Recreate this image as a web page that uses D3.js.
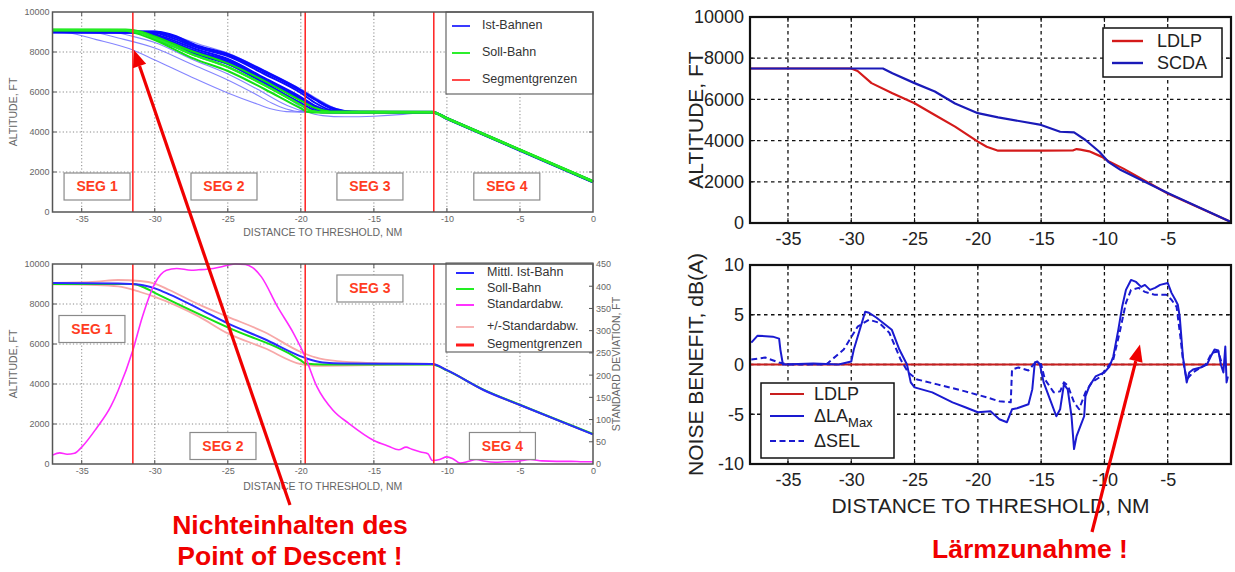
<!DOCTYPE html>
<html><head><meta charset="utf-8">
<script src="https://cdn.jsdelivr.net/npm/d3@7/dist/d3.min.js"></script>
<style>
body{margin:0;background:#fff}
svg{display:block}
text{font-family:Arial,"Liberation Sans",Helvetica,sans-serif}
</style>
</head><body>
<svg id="fig" width="1235" height="572"></svg>
<script>
// ---------------- tick values ----------------
const nmTicksLeft = [-35, -30, -25, -20, -15, -10, -5, 0];
const nmTicksRight = [-35, -30, -25, -20, -15, -10, -5];
const altTicks = [0, 2000, 4000, 6000, 8000, 10000];
const stdTicks = [0, 50, 100, 150, 200, 250, 300, 350, 400, 450];
const noiseTicks = [-10, -5, 0, 5, 10];

// ---------------- segment boundaries (NM) ----------------
const segmentBounds = [-31.5, -19.7, -10.9];
const segLabels = ["SEG 1", "SEG 2", "SEG 3", "SEG 4"];

// ---------------- flown tracks (Ist-Bahnen), [NM, ft] ----------------
const istThin1 = [[-37,9000],[-36,8960],[-34,8620],[-31.5,8100],[-30,7600],[-27.5,6750],[-25,5950],[-23,5400],[-22,5150],[-21,5020],[-19,4990],[-11,4990],[-10,4670],[-5,3080],[0,1500]];
const istThin2 = [[-37,9000],[-34,8950],[-32.5,8700],[-30,8200],[-27.5,7400],[-25,6600],[-23,5850],[-22,5450],[-21,5150],[-20,5020],[-11,5000],[-10,4680],[-5,3090],[0,1500]];
const istThin3 = [[-37,9020],[-33,9000],[-31.5,8780],[-30,8480],[-27.5,7650],[-25,6900],[-23,6150],[-21,5350],[-20,5080],[-19,4990],[-11,4990],[-10,4670],[-5,3080],[0,1500]];
const istThin4 = [[-37,9050],[-30,9050],[-28.8,8830],[-27,8400],[-25,7950],[-22.5,7080],[-20,6150],[-18.5,5500],[-17.5,5150],[-16.5,5020],[-11,5000],[-10,4690],[-5,3100],[0,1520]];
const istThin5 = [[-37,9000],[-31,8990],[-29.8,8700],[-27,7900],[-25,7400],[-22.5,6400],[-20.5,5500],[-19.5,5000],[-18.5,4820],[-17,4760],[-15,4790],[-13,4880],[-11.5,4980],[-11,5000],[-10,4680],[-5,3090],[0,1500]];

const istDense1 = [[-37,9020],[-30.2,9000],[-29.2,8800],[-27,8200],[-25,7800],[-22.5,6900],[-20,5950],[-19,5450],[-18,5100],[-17,5000],[-11,5000],[-10,4690],[-5,3110],[0,1540]];
const istDense2 = [[-37,9000],[-30.5,8990],[-29.5,8780],[-27,8100],[-25,7650],[-22.5,6700],[-20,5750],[-19,5300],[-18,5050],[-17,4990],[-11,4990],[-10,4680],[-5,3100],[0,1520]];
const istDense3 = [[-37,8990],[-30.8,8970],[-29.8,8720],[-27,7950],[-25,7500],[-22.5,6550],[-20,5600],[-19,5150],[-18,4980],[-11,4980],[-10,4660],[-5,3080],[0,1500]];
const istDense4 = [[-37,9010],[-30,9000],[-29,8830],[-27,8250],[-25,7870],[-22.5,7000],[-20,6050],[-19,5600],[-18,5200],[-17,5020],[-11,5010],[-10,4700],[-5,3110],[0,1530]];
const istDense5 = [[-37,8980],[-31,8960],[-30,8650],[-27,7850],[-25,7400],[-22.5,6450],[-20,5450],[-19,5060],[-18.5,4970],[-11,4970],[-10,4650],[-5,3060],[0,1480]];
const istDense6 = [[-37,9030],[-30,9030],[-29,8900],[-27,8300],[-25,7900],[-22.5,7050],[-20,6100],[-19,5650],[-18,5250],[-17,5050],[-16,5000],[-11,5000],[-10,4690],[-5,3100],[0,1510]];
const istDense7 = [[-37,9000],[-30.6,8980],[-29.6,8740],[-27,8000],[-25,7580],[-22.5,6620],[-20,5680],[-19,5220],[-18,5010],[-11,4990],[-10,4670],[-5,3090],[0,1500]];

// ---------------- planned path (Soll-Bahn) ----------------
const soll1 = [[-37,9130],[-32,9120],[-31,9030],[-30,8780],[-27.5,8050],[-25,7430],[-22.5,6560],[-20,5570],[-19,5200],[-18,5030],[-11,5010],[-10,4700],[-5,3130],[0,1560]];
const soll2 = [[-37,9100],[-32,9090],[-31,8970],[-30,8700],[-27.5,7900],[-25,7250],[-22.5,6350],[-20,5350],[-19.3,5060],[-18.5,4990],[-11,4990],[-10,4680],[-5,3110],[0,1530]];
const soll3 = [[-37,9070],[-32,9060],[-31.2,8920],[-30,8600],[-27.5,7720],[-25,7050],[-22.5,6150],[-20,5180],[-19.5,5000],[-18.8,4970],[-11,4970],[-10,4660],[-5,3080],[0,1500]];

// ---------------- statistics of the flown tracks ----------------
const meanIst = [[-37,9050],[-32.5,9020],[-31,8960],[-30,8780],[-29,8480],[-27,7770],[-25,7030],[-22.5,6250],[-20,5380],[-19.5,5250],[-18.5,5080],[-17,5020],[-11,5000],[-10,4690],[-7.5,3700],[-5,2950],[0,1480]];
const sollMean = [[-37,9000],[-31.5,9000],[-30.8,8850],[-30,8560],[-25,6830],[-20,5180],[-19.7,5030],[-18.5,4980],[-11,4980],[-10,4680],[-7.5,3720],[-5,2960],[0,1500]];
const stdUpper = [[-37,9050],[-34,9120],[-32.5,9200],[-31,9150],[-30,9020],[-29,8700],[-27,7980],[-25,7360],[-22.5,6600],[-20,5600],[-19,5330],[-17.5,5140],[-15,5050],[-11,5000],[-10,4700],[-7.5,3710],[-5,2950],[0,1500]];
const stdLower = [[-37,8980],[-34,8950],[-32.5,8880],[-31,8600],[-30,8360],[-27,7380],[-25,6530],[-22.5,5800],[-20,4990],[-19,4910],[-17,4920],[-15,4950],[-11,4980],[-10,4680],[-7.5,3690],[-5,2940],[0,1480]];
const stdDev = [[-37,20],[-36.5,25],[-36,22],[-35.5,24],[-35,38],[-34,80],[-33,130],[-32.5,166],[-31.5,256],[-30.85,331],[-30,406],[-29.2,436],[-28.5,440],[-27.5,436],[-27,437],[-26,440],[-25,447],[-24.5,450],[-23.8,449],[-23.3,442],[-22.7,421],[-21.6,354],[-20.5,294],[-19.7,241],[-18.9,174],[-17.8,121],[-16.7,91],[-15,53],[-14,40],[-13.3,32],[-12.8,38],[-12.4,33],[-11.8,27],[-11.3,23],[-11,8],[-10.5,10],[-10,16],[-9.6,12],[-9.1,2],[-8.5,6],[-8,10],[-7.4,6],[-6.7,4],[-6,5],[-5.2,6],[-4.3,10],[-3.5,7],[-2.5,6],[-1.5,6],[-0.7,5],[0,5]];

// ---------------- LDLP vs SCDA profiles ----------------
const ldlpAlt = [[-38,7500],[-30,7500],[-29.5,7380],[-28.4,6790],[-26.75,6300],[-25,5810],[-23.4,5240],[-21.8,4680],[-20,3950],[-19.3,3700],[-18.4,3510],[-15,3510],[-12.5,3520],[-12.2,3590],[-11.9,3560],[-11.2,3480],[-10.2,3210],[-9.6,2970],[-8.5,2640],[-5,1430],[0,50]];
const scdaAlt = [[-38,7500],[-27.5,7500],[-26.75,7270],[-25,6790],[-23.4,6380],[-21.8,5800],[-20,5330],[-18.4,5130],[-15,4760],[-13.5,4430],[-12.4,4400],[-11.5,4030],[-10.4,3460],[-9.7,2970],[-8.7,2570],[-5,1460],[0,50]];

// ---------------- noise benefit, dB(A) ----------------
const ldlpNoise = [[-38,0],[0,0]];
const laMaxDelta = [[-37.9,2.2],[-37.4,2.9],[-36.2,2.8],[-35.7,2.6],[-35.6,1.5],[-35.4,0],[-33,0.1],[-31,0],[-30,0.3],[-29.8,1.5],[-28.9,5.3],[-28.6,5.2],[-28,4.7],[-26.8,3.5],[-26.2,1.5],[-25.6,0],[-25.3,-1.8],[-25,-2.3],[-23.6,-2.8],[-22,-3.8],[-21,-4.3],[-20,-4.8],[-19,-4.7],[-18.3,-5.5],[-17.7,-5.8],[-17.3,-4.5],[-16.9,-4.4],[-16,-4],[-15.7,-2.5],[-15.5,0.2],[-15.3,0.3],[-15.1,0],[-14.8,-1.8],[-14.3,-3.5],[-13.8,-5.2],[-13.5,-4.5],[-13.2,-2],[-12.9,-2.5],[-12.6,-5.2],[-12.4,-8.5],[-12.2,-7.2],[-11.9,-6.2],[-11.6,-5.2],[-11.5,-3.2],[-11.2,-2.2],[-10.7,-1.2],[-10,-0.8],[-9.6,-0.2],[-9.3,0.8],[-8.9,3.5],[-8.6,5.8],[-8.3,7.5],[-7.9,8.5],[-7.5,8.3],[-7.1,7.8],[-6.8,8],[-6.4,7.5],[-6,7.7],[-5.6,8],[-5,8.2],[-4.7,7.2],[-4.4,6.5],[-4.2,6],[-4.05,4.8],[-3.8,0.8],[-3.5,-1.8],[-3.3,-0.8],[-3,-0.5],[-2.4,-0.3],[-1.9,0],[-1.6,0.8],[-1.3,1.5],[-1,1.4],[-0.8,0],[-0.6,-0.8],[-0.45,1.8],[-0.35,-1.8],[-0.25,-1.2]];
const selDelta = [[-37.9,0.5],[-36.8,0.7],[-35.7,0.2],[-35,0],[-32,0],[-31.8,0.2],[-30.6,1.5],[-29.5,3.8],[-28.6,4.5],[-27.8,4.2],[-27,3.2],[-26.1,0.5],[-25.5,-0.8],[-24.8,-1.5],[-23.2,-2],[-21,-2.7],[-19.3,-3.3],[-18.3,-3.7],[-17.4,-3.8],[-17.3,-0.5],[-16.8,-0.3],[-16,-0.6],[-15.6,0],[-15.3,0.2],[-15,0],[-14.7,-1.5],[-14,-2.8],[-13.5,-2.7],[-13.2,-1.8],[-12.9,-2.1],[-12.4,-3.8],[-12,-4.5],[-11.5,-2.8],[-11,-1.8],[-10.4,-1.3],[-9.9,-0.5],[-9.3,0.5],[-8.8,3.2],[-8.3,6.2],[-7.9,7.5],[-7.3,7.7],[-6.8,7.3],[-6,7],[-5.1,7],[-4.7,6.5],[-4.3,5.8],[-4,2.8],[-3.8,0.5],[-3.5,-1.5],[-3,-0.8],[-2,0],[-1.5,1.2],[-1,1.3],[-0.7,0]];

// =====================================================================
const svg = d3.select("#fig");
const fmt = d => String(d);

function makePanel(o) {
  const x = d3.scaleLinear().domain(o.xDomain).range([o.left, o.right]);
  const y = d3.scaleLinear().domain(o.yDomain).range([o.bottom, o.top]);
  const g = svg.append("g");
  const inner = v => v > Math.min(...o.xDomain) && v < Math.max(...o.xDomain);
  const innerY = v => v > Math.min(...o.yDomain) && v < Math.max(...o.yDomain);

  // grid
  const grid = g.append("g").attr("stroke", o.gridColor).attr("stroke-width", o.gridWidth)
    .attr("stroke-dasharray", o.gridDash).attr("fill", "none");
  grid.selectAll("line.gx").data(o.xTicks.filter(inner)).join("line").attr("class", "gx")
    .attr("x1", d => x(d)).attr("x2", d => x(d)).attr("y1", o.top).attr("y2", o.bottom);
  grid.selectAll("line.gy").data(o.yTicks.filter(innerY)).join("line").attr("class", "gy")
    .attr("y1", d => y(d)).attr("y2", d => y(d)).attr("x1", o.left).attr("x2", o.right);

  // inward tick marks
  const tk = g.append("g").attr("stroke", o.frameColor).attr("stroke-width", 1);
  o.xTicks.filter(inner).forEach(v => {
    tk.append("line").attr("x1", x(v)).attr("x2", x(v)).attr("y1", o.bottom).attr("y2", o.bottom - o.tickLen);
    tk.append("line").attr("x1", x(v)).attr("x2", x(v)).attr("y1", o.top).attr("y2", o.top + o.tickLen);
  });
  o.yTicks.filter(innerY).forEach(v => {
    tk.append("line").attr("y1", y(v)).attr("y2", y(v)).attr("x1", o.left).attr("x2", o.left + o.tickLen);
    if (!o.noRightTicks) tk.append("line").attr("y1", y(v)).attr("y2", y(v)).attr("x1", o.right).attr("x2", o.right - o.tickLen);
  });

  // tick labels through d3 axes
  const ax = g.append("g").attr("transform", `translate(0,${o.bottom})`)
    .call(d3.axisBottom(x).tickValues(o.xTickLabels).tickSize(0).tickPadding(o.xPad).tickFormat(fmt));
  const ay = g.append("g").attr("transform", `translate(${o.left},0)`)
    .call(d3.axisLeft(y).tickValues(o.yTicks).tickSize(0).tickPadding(o.yPad).tickFormat(fmt));
  [ax, ay].forEach(a => {
    a.select(".domain").remove();
    a.selectAll("text").attr("font-size", o.tickFont).attr("fill", o.labelColor)
      .style("font-family", "Arial, 'Liberation Sans', sans-serif");
  });

  // axis titles
  if (o.xTitle) g.append("text").attr("x", (o.left + o.right) / 2).attr("y", o.xTitleY)
    .attr("text-anchor", "middle").attr("dominant-baseline", "middle")
    .attr("font-size", o.titleFont).attr("fill", o.labelColor).text(o.xTitle);
  g.append("text").attr("transform", `translate(${o.yTitleX},${(o.top + o.bottom) / 2}) rotate(-90)`)
    .attr("text-anchor", "middle").attr("dominant-baseline", "middle")
    .attr("font-size", o.titleFont).attr("fill", o.labelColor).text(o.yTitle);

  const data = g.append("g");
  const over = g.append("g");
  const frame = () => g.append("rect").attr("x", o.left).attr("y", o.top)
    .attr("width", o.right - o.left).attr("height", o.bottom - o.top)
    .attr("fill", "none").attr("stroke", o.frameColor).attr("stroke-width", o.frameWidth);
  return { x, y, g, data, over, frame };
}

function drawLine(layer, p, pts, style, curve) {
  const line = d3.line().x(d => p.x(d[0])).y(d => p.y(d[1])).curve(curve || d3.curveLinear);
  return layer.append("path").datum(pts).attr("d", line).attr("fill", "none")
    .attr("stroke", style.color).attr("stroke-width", style.width)
    .attr("stroke-dasharray", style.dash || null).attr("stroke-opacity", style.opacity || 1)
    .attr("stroke-linejoin", "round");
}

function segLines(p, yDomain) {
  p.data.selectAll("line.seg").data(segmentBounds).join("line").attr("class", "seg")
    .attr("x1", d => p.x(d)).attr("x2", d => p.x(d))
    .attr("y1", p.y(yDomain[0])).attr("y2", p.y(yDomain[1]))
    .attr("stroke", "#ff2a2a").attr("stroke-width", 1.6);
}

function segBoxes(p, spots) {
  spots.forEach((s, i) => {
    const cx = p.x(s[0]), cy = p.y(s[1]);
    p.over.append("rect").attr("x", cx - 33).attr("y", cy - 13.5).attr("width", 66).attr("height", 27)
      .attr("fill", "#fff").attr("stroke", "#8a8a8a").attr("stroke-width", 1.2);
    p.over.append("text").attr("x", cx).attr("y", cy + 1).attr("text-anchor", "middle")
      .attr("dominant-baseline", "middle").attr("font-size", 14).attr("font-weight", "bold")
      .attr("fill", "#ff3d1f").text(segLabels[i]);
  });
}

function leftLegend(p, box, items) {
  p.over.append("rect").attr("x", box[0]).attr("y", box[1]).attr("width", box[2]).attr("height", box[3])
    .attr("fill", "#fff").attr("stroke", "#666").attr("stroke-width", 1.2);
  items.forEach(it => {
    p.over.append("line").attr("x1", box[0] + it.lx).attr("x2", box[0] + it.lx + 18)
      .attr("y1", it.y).attr("y2", it.y).attr("stroke", it.color).attr("stroke-width", it.w || 2);
    p.over.append("text").attr("x", box[0] + it.tx).attr("y", it.y).attr("dominant-baseline", "middle")
      .attr("font-size", 12.5).attr("fill", "#333").text(it.label);
  });
}

const leftStyle = {
  gridColor: "#888", gridWidth: 1, gridDash: "1.2,2.2", frameColor: "#555", frameWidth: 1.5,
  tickLen: 4, tickFont: 9, titleFont: 10.5, labelColor: "#666", xPad: 4, yPad: 3
};
const rightStyle = {
  gridColor: "#111", gridWidth: 1.3, gridDash: "3.5,3.5", frameColor: "#111", frameWidth: 2.2,
  tickLen: 5, tickFont: 18, titleFont: 21, labelColor: "#222", xPad: 9, yPad: 6
};

// ---------------- panel A: flown tracks vs planned path ----------------
const pA = makePanel(Object.assign({}, leftStyle, {
  left: 52.5, right: 593, top: 12, bottom: 212, xDomain: [-37, 0], yDomain: [0, 10000],
  xTicks: nmTicksLeft, xTickLabels: nmTicksLeft, yTicks: altTicks,
  xTitle: "DISTANCE TO THRESHOLD, NM", yTitle: "ALTITUDE, FT", xTitleY: 233, yTitleX: 14
}));
const smooth = d3.curveMonotoneX;
[istThin1, istThin2, istThin3, istThin4, istThin5].forEach(t => drawLine(pA.data, pA, t, { color: "#6f6fff", width: 1.1, opacity: 0.85 }, smooth));
[istDense1, istDense2, istDense3, istDense4, istDense5, istDense6, istDense7].forEach(t => drawLine(pA.data, pA, t, { color: "#0a0aff", width: 2 }, smooth));
[soll1, soll2, soll3].forEach(t => drawLine(pA.data, pA, t, { color: "#14e014", width: 2 }, smooth));
drawLine(pA.data, pA, soll2, { color: "#22ee22", width: 2.4 }, smooth);
segLines(pA, [0, 10000]);
pA.frame();
segBoxes(pA, [[-33.95, 1275], [-25.26, 1275], [-15.27, 1275], [-5.9, 1275]]);
leftLegend(pA, [446, 12, 147, 82], [
  { label: "Ist-Bahnen", color: "#3a3aff", y: 26, lx: 6, tx: 36 },
  { label: "Soll-Bahn", color: "#2cee2c", y: 53, lx: 6, tx: 36 },
  { label: "Segmentgrenzen", color: "#ff4a4a", y: 80, lx: 6, tx: 36 }
]);

// ---------------- panel B: mean track and standard deviation ----------------
const pB = makePanel(Object.assign({}, leftStyle, {
  left: 52.5, right: 593, top: 264, bottom: 464, xDomain: [-37, 0], yDomain: [0, 10000],
  xTicks: nmTicksLeft, xTickLabels: nmTicksLeft, yTicks: altTicks, noRightTicks: true,
  xTitle: "DISTANCE TO THRESHOLD, NM", yTitle: "ALTITUDE, FT", xTitleY: 487, yTitleX: 14
}));
const yStd = d3.scaleLinear().domain([0, 450]).range([464, 264]);
// right-hand axis (standard deviation)
const ar = pB.g.append("g").attr("transform", "translate(593,0)")
  .call(d3.axisRight(yStd).tickValues(stdTicks).tickSize(0).tickPadding(3).tickFormat(fmt));
ar.select(".domain").remove();
ar.selectAll("text").attr("font-size", 9).attr("fill", "#666");
stdTicks.filter(v => v > 0 && v < 450).forEach(v => pB.g.append("line")
  .attr("x1", 593).attr("x2", 589).attr("y1", yStd(v)).attr("y2", yStd(v)).attr("stroke", "#555"));
pB.g.append("text").attr("transform", "translate(617,364) rotate(-90)").attr("text-anchor", "middle")
  .attr("dominant-baseline", "middle").attr("font-size", 10.5).attr("fill", "#666").text("STANDARD DEVIATION, FT");

drawLine(pB.data, pB, stdUpper, { color: "#f7a8a8", width: 1.8 }, smooth);
drawLine(pB.data, pB, stdLower, { color: "#f7a8a8", width: 1.8 }, smooth);
drawLine(pB.data, pB, sollMean, { color: "#14e014", width: 2 }, smooth);
drawLine(pB.data, pB, meanIst, { color: "#2a2aff", width: 2 }, smooth);
const stdLine = d3.line().x(d => pB.x(d[0])).y(d => yStd(d[1])).curve(d3.curveMonotoneX);
pB.data.append("path").datum(stdDev).attr("d", stdLine).attr("fill", "none")
  .attr("stroke", "#ff2aff").attr("stroke-width", 1.6);
segLines(pB, [0, 10000]);
pB.frame();
segBoxes(pB, [[-34.3, 6750], [-25.33, 900], [-15.27, 8775], [-6.2, 900]]);
leftLegend(pB, [446, 263, 147, 89], [
  { label: "Mittl. Ist-Bahn", color: "#2a2aff", y: 273, lx: 10, tx: 41 },
  { label: "Soll-Bahn", color: "#22ee22", y: 289, lx: 10, tx: 41 },
  { label: "Standardabw.", color: "#ff33ff", y: 305, lx: 10, tx: 41 },
  { label: "+/-Standardabw.", color: "#f8b4b4", y: 327, lx: 10, tx: 41 },
  { label: "Segmentgrenzen", color: "#ff1a1a", y: 345, lx: 10, tx: 41, w: 3 }
]);

// ---------------- panel C: LDLP vs SCDA altitude ----------------
const pC = makePanel(Object.assign({}, rightStyle, {
  left: 750, right: 1231, top: 17, bottom: 223, xDomain: [-38, 0], yDomain: [0, 10000],
  xTicks: nmTicksRight, xTickLabels: nmTicksRight, yTicks: altTicks,
  xTitle: "", yTitle: "ALTITUDE, FT", xTitleY: 0, yTitleX: 697
}));
drawLine(pC.data, pC, ldlpAlt, { color: "#d41a1a", width: 2.2 });
drawLine(pC.data, pC, scdaAlt, { color: "#1a1ab8", width: 2.2 });
pC.frame();
pC.over.append("rect").attr("x", 1103).attr("y", 28).attr("width", 119).attr("height", 49)
  .attr("fill", "#fff").attr("stroke", "#111").attr("stroke-width", 1.5);
[["LDLP", "#d41a1a", 41], ["SCDA", "#1a1ab8", 63]].forEach(([t, c, yy]) => {
  pC.over.append("line").attr("x1", 1112).attr("x2", 1143).attr("y1", yy).attr("y2", yy)
    .attr("stroke", c).attr("stroke-width", 2.4);
  pC.over.append("text").attr("x", 1157).attr("y", yy + 1).attr("dominant-baseline", "middle")
    .attr("font-size", 18).attr("fill", "#222").text(t);
});

// ---------------- panel D: noise benefit ----------------
const pD = makePanel(Object.assign({}, rightStyle, {
  left: 750, right: 1231, top: 265, bottom: 464, xDomain: [-38, 0], yDomain: [-10, 10],
  xTicks: nmTicksRight, xTickLabels: nmTicksRight, yTicks: noiseTicks,
  xTitle: "DISTANCE TO THRESHOLD, NM", yTitle: "NOISE BENEFIT, dB(A)", xTitleY: 507, yTitleX: 697
}));
drawLine(pD.data, pD, ldlpNoise, { color: "#c81e1e", width: 2.2 });
drawLine(pD.data, pD, selDelta, { color: "#1a1ad0", width: 2, dash: "6,3.5" });
drawLine(pD.data, pD, laMaxDelta, { color: "#1a1ad0", width: 2 });
pD.frame();
pD.over.append("rect").attr("x", 761).attr("y", 383).attr("width", 133).attr("height", 75)
  .attr("fill", "#fff").attr("stroke", "#111").attr("stroke-width", 1.5);
[["LDLP", "#c81e1e", 394, null], ["ΔLA", "#1a1ad0", 416, null], ["ΔSEL", "#1a1ad0", 441, "6,3.5"]].forEach(([t, c, yy, dash]) => {
  pD.over.append("line").attr("x1", 770).attr("x2", 804).attr("y1", yy).attr("y2", yy)
    .attr("stroke", c).attr("stroke-width", 2.2).attr("stroke-dasharray", dash);
  const tx = pD.over.append("text").attr("x", 814).attr("y", yy + 1).attr("dominant-baseline", "middle")
    .attr("font-size", 18).attr("fill", "#222").text(t);
  if (t === "ΔLA") tx.append("tspan").attr("dy", 7).attr("font-size", 13).text("Max");
});

// ---------------- annotations ----------------
const ann = svg.append("g");
function arrow(x1, y1, x2, y2) {
  const ang = Math.atan2(y2 - y1, x2 - x1), L = 17, W = 7;
  const bx = x2 - L * Math.cos(ang), by = y2 - L * Math.sin(ang);
  ann.append("line").attr("x1", x1).attr("y1", y1).attr("x2", bx).attr("y2", by)
    .attr("stroke", "#f00000").attr("stroke-width", 3.2);
  const px = -Math.sin(ang) * W, py = Math.cos(ang) * W;
  ann.append("path").attr("d", `M${x2},${y2}L${bx + px},${by + py}L${bx - px},${by - py}Z`).attr("fill", "#f00000");
}
// arrow tips anchored to data positions in panels A and D
arrow(290, 505, pA.x(-31.42), pA.y(8100));
arrow(1092, 532, pD.x(-7.19), pD.y(2));
[["Nichteinhalten des", 290, 534], ["Point of Descent !", 290, 565], ["Lärmzunahme !", 1030, 558]].forEach(([t, xx, yy]) => {
  ann.append("text").attr("x", xx).attr("y", yy).attr("text-anchor", "middle")
    .attr("font-size", 26.5).attr("font-weight", "bold").attr("fill", "#f00000").text(t);
});
</script>
</body></html>
